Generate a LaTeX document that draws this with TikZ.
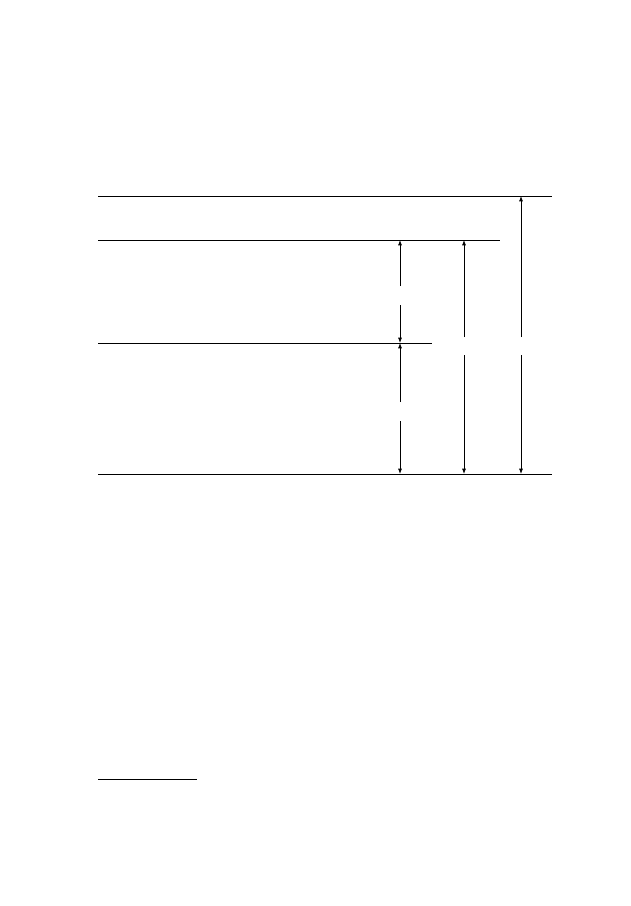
\documentclass[tikz,border=0pt]{standalone}
\usetikzlibrary{arrows.meta}

\begin{document}
\begin{tikzpicture}[> = {Latex[length = 4.5pt, width = 3.4pt]}, x = 0.03cm, y = -0.03cm, line width = 0.7pt]

	% Definitions

	\def\xLeft{98}		% Left end of all lines
	\def\yTop{196}		% Top line
	\def\yUpper{240}	% Second line
	\def\yMid{343}		% Third line
	\def\yBase{474}		% Bottom line
	\def\gapA{286}		% Gaps in the arrows
	\def\gapB{305}
	\def\gapC{402}
	\def\gapD{421}
	\def\gapE{337}
	\def\gapF{355}

	% Page

	\useasboundingbox (0, 0) rectangle (630, 906);

	% Levels

	\coordinate (topL) at (\xLeft, \yTop);
	\coordinate (topR) at (552, \yTop);
	\coordinate (upperL) at (\xLeft, \yUpper);
	\coordinate (upperR) at (500, \yUpper);
	\coordinate (midL) at (\xLeft, \yMid);
	\coordinate (midR) at (432, \yMid);
	\coordinate (baseL) at (\xLeft, \yBase);
	\coordinate (baseR) at (552, \yBase);

	\draw (topL) -- (topR);
	\draw (upperL) -- (upperR);
	\draw (midL) -- (midR);
	\draw (baseL) -- (baseR);

	% Inner arrows

	\coordinate (aTop) at (400, \yUpper);
	\coordinate (aGapA) at (400, \gapA);
	\coordinate (aGapB) at (400, \gapB);
	\coordinate (aMid) at (400, \yMid);
	\coordinate (aGapC) at (400, \gapC);
	\coordinate (aGapD) at (400, \gapD);
	\coordinate (aBase) at (400, \yBase);

	\draw [->] (aGapA) -- (aTop);
	\draw [->] (aGapB) -- (aMid);
	\draw [->] (aGapC) -- (aMid);
	\draw [->] (aGapD) -- (aBase);

	% Middle arrow

	\coordinate (bTop) at (464, \yUpper);
	\coordinate (bGapE) at (464, \gapE);
	\coordinate (bGapF) at (464, \gapF);
	\coordinate (bBase) at (464, \yBase);

	\draw [->] (bGapE) -- (bTop);
	\draw [->] (bGapF) -- (bBase);

	% Outer arrow

	\coordinate (cTop) at (521, \yTop);
	\coordinate (cGapE) at (521, \gapE);
	\coordinate (cGapF) at (521, \gapF);
	\coordinate (cBase) at (521, \yBase);

	\draw [->] (cGapE) -- (cTop);
	\draw [->] (cGapF) -- (cBase);

	% Footnote rule

	\coordinate (ruleL) at (\xLeft, 779);
	\coordinate (ruleR) at (197, 779);
	\draw (ruleL) -- (ruleR);

\end{tikzpicture}
\end{document}
